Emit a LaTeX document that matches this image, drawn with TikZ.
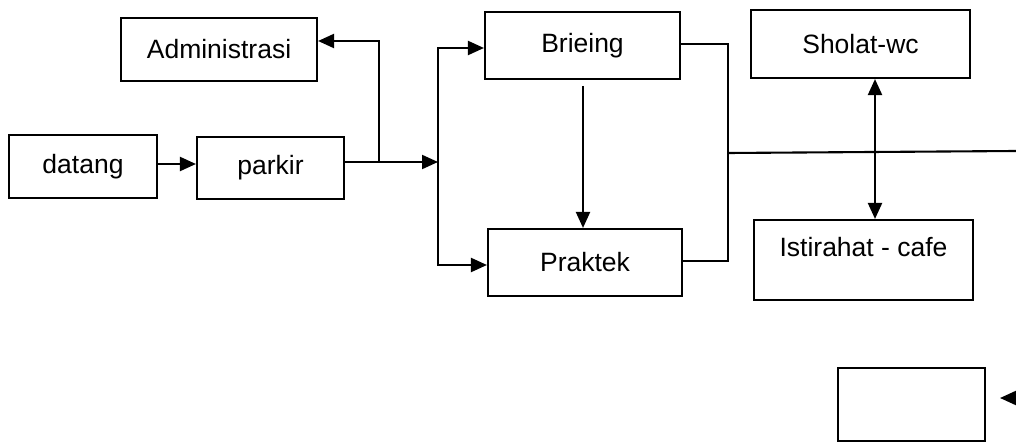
\documentclass[tikz,border=0pt]{standalone}
\usepackage{fontspec}
\setmainfont{Liberation Sans}
\usetikzlibrary{arrows.meta}
\begin{document}
\begin{tikzpicture}[x=1pt,y=-1pt,
  box/.style={draw,line width=2.1pt,inner sep=0pt,font=\fontsize{26.5}{30}\selectfont},
  conn/.style={line width=2.1pt},
  arr/.style={conn,-{Triangle[length=16pt,width=14pt]}},
  darr/.style={conn,{Triangle[length=16pt,width=14pt]}-{Triangle[length=16pt,width=14pt]}},
  lbl/.style={inner sep=0pt,font=\fontsize{26.5}{30}\selectfont}]
\useasboundingbox (0,0) rectangle (1016,443);
\node[box,minimum width=196pt,minimum height=63pt] (adm) at (219,49.5) {Administrasi};
\node[box,minimum width=148pt,minimum height=63pt] (dat) at (83,166.5) {datang};
\node[box,minimum width=147pt,minimum height=62pt] (par) at (270.5,168) {parkir};
\node[box,minimum width=195pt,minimum height=67pt] (bri) at (582.5,45.5) {Brieing};
\node[box,minimum width=194pt,minimum height=67pt] (pra) at (585,262.5) {Praktek};
\node[box,minimum width=219pt,minimum height=68pt] (sho) at (860.5,44) {Sholat-wc};
\node[box,minimum width=219pt,minimum height=80pt] (ist) at (863.5,260) {};
\node[lbl] (istl) at (863.5,247) {Istirahat - cafe};
\node[box,minimum width=147pt,minimum height=73pt] (bot) at (911.5,404.5) {};
% connectors
\draw[arr] (dat.east |- 0,164) -- (par.west |- 0,164);
\coordinate (j1) at (379,162);
\coordinate (j2) at (438,162);
\draw[conn] (par.east |- j1) -- (j1);
\draw[arr] (j1) |- (adm.east |- 0,41);
\draw[arr] (j1) -- (j2);
\draw[arr] (j2) |- (bri.west |- 0,48);
\draw[arr] (j2) |- (pra.west |- 0,265);
\draw[conn,-{Triangle[length=16pt,width=14pt]}] (583,86) -- (pra.north -| 583,0);
\coordinate (m) at (728,153);
\coordinate (r) at (1016,151);
\draw[conn] (bri.east |- 0,44) -| (728,261) -- (pra.east |- 0,261);
\draw[conn] (m) -- (r);
\draw[darr] (sho.south -| 875,0) -- (ist.north -| 875,0);
\coordinate (e) at (1016,398);
\draw[arr] (e) -- (1000,398);
\end{tikzpicture}
\end{document}
